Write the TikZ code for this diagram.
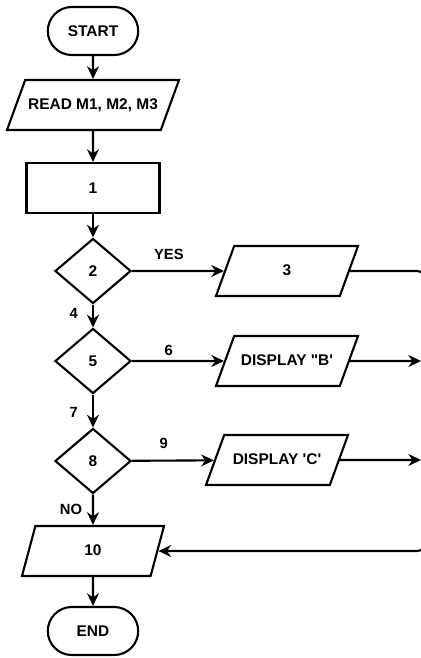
\documentclass[tikz,border=0pt]{standalone}
\usepackage{fontspec}
\setmainfont{Liberation Sans}
\usetikzlibrary{shapes.geometric,shapes.misc,arrows.meta}

\begin{document}
\begin{tikzpicture}[
        x=0.025cm, y=-0.025cm,
        every node/.style={font=\bfseries\fontsize{11}{13}\selectfont, inner sep=2pt},
        terminal/.style={draw, line width=1.5pt, rounded rectangle, minimum width=2.4cm, minimum height=1.2cm},
        process/.style={draw, line width=1.5pt, rectangle, minimum width=3.325cm, minimum height=1.25cm},
        decision/.style={draw, line width=1.5pt, diamond, minimum width=1.9cm, minimum height=1.625cm, inner sep=0pt},
        io/.style={draw, line width=1.5pt, trapezium, trapezium left angle=70, trapezium right angle=110, trapezium stretches body, text height=8pt, text depth=2pt, inner ysep=12.8pt, minimum width=3.55cm},
        flow/.style={draw, line width=1.5pt, -{Stealth[length=9pt,width=8.5pt]}},
        tag/.style={font=\bfseries\fontsize{10.5}{12}\selectfont}
    ]
 \useasboundingbox (0,0) rectangle (421,658);
 \node[terminal] (start) at (93,31) {START};
 \node[io, minimum width=4.3cm] (read) at (93,105) {READ M1, M2, M3};
 \node[process] (b1) at (93,188) {1};
 \node[decision] (d2) at (93,271) {2};
 \node[io] (p3) at (287,271) {3};
 \node[decision] (d5) at (93,361) {5};
 \node[io] (pB) at (287,361) {DISPLAY \textquotedbl B\textquotesingle};
 \node[decision] (d8) at (93,461) {8};
 \node[io] (pC) at (277,460) {DISPLAY \textquotesingle C\textquotesingle};
 \node[io, trapezium left angle=75, trapezium right angle=105] (p10) at (93,551) {10};
 \node[terminal] (end) at (93,631) {END};
 \coordinate (c1) at (425,271);
 \coordinate (c2) at (425,551);
 \coordinate (eB) at (421,361);
 \coordinate (eC) at (421,460);
 \draw[flow] (start) -- (read);
 \draw[flow] (read) -- (b1);
 \draw[flow] (b1) -- (d2);
 \draw[flow] (d2) -- node[tag, above=5pt, pos=0.4] {YES} (p3);
 \draw[flow] (d2) -- node[tag, left=8pt, pos=0.4] {4} (d5);
 \draw[flow] (d5) -- node[tag, above=1pt, pos=0.4] {6} (pB);
 \draw[flow] (d5) -- node[tag, left=8pt, pos=0.54] {7} (d8);
 \draw[flow] (d8) -- node[tag, above=6pt, pos=0.39] {9} (pC);
 \draw[flow] (d8) -- node[tag, left=5pt, pos=0.5] {NO} (p10);
 \draw[flow] (p10) -- (end);
 \draw[flow] (pB) -- (eB);
 \draw[flow] (pC) -- (eC);
 \draw[flow, rounded corners=0.2cm] (p3.east) -- (c1) -- (c2) -- (p10.east);
\end{tikzpicture}
\end{document}
